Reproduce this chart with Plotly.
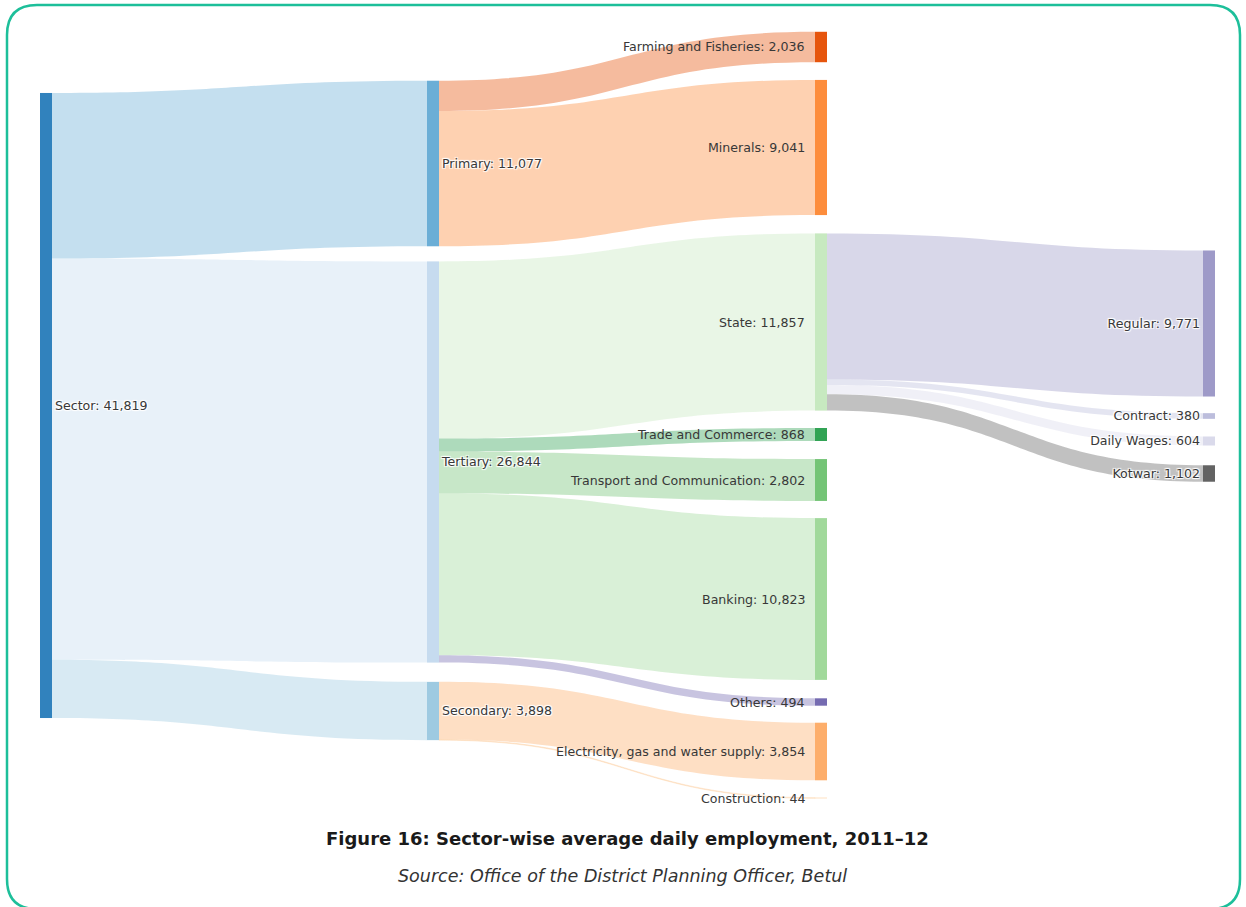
import plotly.graph_objects as go

W, H = 1246, 907

# Node data
node_names = ["Sector", "Primary", "Tertiary", "Secondary",
              "Farming and Fisheries", "Minerals", "State", "Trade and Commerce",
              "Transport and Communication", "Banking", "Others",
              "Electricity, gas and water supply", "Construction",
              "Regular", "Contract", "Daily Wages", "Kotwar"]
node_values = [41819, 11077, 26844, 3898,
               2036, 9041, 11857, 868,
               2802, 10823, 494,
               3854, 44,
               9771, 380, 604, 1102]
node_colors = ["#3182bd", "#6baed6", "#c6dbef", "#9ecae1",
               "#e6550d", "#fd8d3c", "#c7e9c0", "#31a354",
               "#74c476", "#a1d99b", "#756bb1",
               "#fdae6b", "#fdd0a2",
               "#9e9ac8", "#bcbddc", "#dadaeb", "#636363"]

# Links
link_source = ["Sector", "Sector", "Sector",
               "Primary", "Primary",
               "Tertiary", "Tertiary", "Tertiary", "Tertiary", "Tertiary",
               "Secondary", "Secondary",
               "State", "State", "State", "State"]
link_target = ["Primary", "Tertiary", "Secondary",
               "Farming and Fisheries", "Minerals",
               "State", "Trade and Commerce", "Transport and Communication", "Banking", "Others",
               "Electricity, gas and water supply", "Construction",
               "Regular", "Contract", "Daily Wages", "Kotwar"]
link_values = [11077, 26844, 3898,
               2036, 9041,
               11857, 868, 2802, 10823, 494,
               3854, 44,
               9771, 380, 604, 1102]

# Layout: column of each node and pixel centres of nodes in the reference
node_col = [0, 1, 1, 1] + [2] * 9 + [3] * 4
col_centres = [46, 433, 821, 1209]
cy_px = [405.5, 163.5, 462, 711,
         47, 147.5, 322, 434.5, 480, 599, 702, 751.5, 798,
         323.5, 416, 441, 473.5]

top_px, bot_px = 32, 805
dom_h = bot_px - top_px


def hex_rgba(h, a):
    h = h.lstrip("#")
    r, g, b = int(h[0:2], 16), int(h[2:4], 16), int(h[4:6], 16)
    return f"rgba({r},{g},{b},{a})"


idx = {n: i for i, n in enumerate(node_names)}
full_labels = [f"{n}: {v:,}" for n, v in zip(node_names, node_values)]
# third-column labels are drawn to the left of their nodes as annotations
labels = [("" if c == 2 else lab) for c, lab in zip(node_col, full_labels)]

label_font = dict(family="DejaVu Sans", size=12.6, color="#383838")

fig = go.Figure(go.Sankey(
    arrangement="fixed",
    domain=dict(x=[0, 1], y=[1 - bot_px / H, 1 - top_px / H]),
    node=dict(
        label=labels,
        color=node_colors,
        pad=13.45,
        thickness=12,
        line=dict(width=0),
        x=[col_centres[c] / W for c in node_col],
        y=[(p - top_px) / dom_h for p in cy_px],
        hovertemplate="%{customdata}<extra></extra>",
        customdata=full_labels,
    ),
    link=dict(
        source=[idx[s] for s in link_source],
        target=[idx[t] for t in link_target],
        value=link_values,
        color=[hex_rgba(node_colors[idx[t]], 0.4) for t in link_target],
    ),
    textfont=label_font,
))

annotations = []
for c, lab, y in zip(node_col, full_labels, cy_px):
    if c == 2:
        annotations.append(dict(
            text=lab, x=(col_centres[2] - 6 - 8) / W, y=1 - y / H,
            xref="paper", yref="paper", xanchor="right", yanchor="middle",
            showarrow=False, font=label_font))

annotations += [
    dict(text="<b>Figure 16: Sector-wise average daily employment, 2011–12</b>",
         x=627 / W, y=1 - 838 / H, xref="paper", yref="paper", showarrow=False,
         xanchor="center", yanchor="middle",
         font=dict(family="DejaVu Sans", size=18, color="#1a1a1a")),
    dict(text="<i>Source: Office of the District Planning Officer, Betul</i>",
         x=622 / W, y=1 - 876 / H, xref="paper", yref="paper", showarrow=False,
         xanchor="center", yanchor="middle",
         font=dict(family="DejaVu Sans", size=17.5, color="#333333")),
]


def px(x, y):
    return f"{x / W},{1 - y / H}"


X0, Y0, X1, Y1, r = 7, 5, 1240, 909, 30
path = (f"M {px(X0 + r, Y0)} L {px(X1 - r, Y0)} Q {px(X1, Y0)} {px(X1, Y0 + r)} "
        f"L {px(X1, Y1 - r)} Q {px(X1, Y1)} {px(X1 - r, Y1)} "
        f"L {px(X0 + r, Y1)} Q {px(X0, Y1)} {px(X0, Y1 - r)} "
        f"L {px(X0, Y0 + r)} Q {px(X0, Y0)} {px(X0 + r, Y0)} Z")

fig.update_layout(
    width=W, height=H,
    margin=dict(l=0, r=0, t=0, b=0),
    paper_bgcolor="white",
    shapes=[dict(type="path", xref="paper", yref="paper", path=path,
                 line=dict(color="#1dbf9a", width=2.5), layer="above")],
    annotations=annotations,
)

fig.write_html("out.html",
               config={"displayModeBar": False},
               post_script="document.documentElement.style.margin='0';"
                           "document.body.style.margin='0';"
                           "document.body.style.overflow='hidden';")
